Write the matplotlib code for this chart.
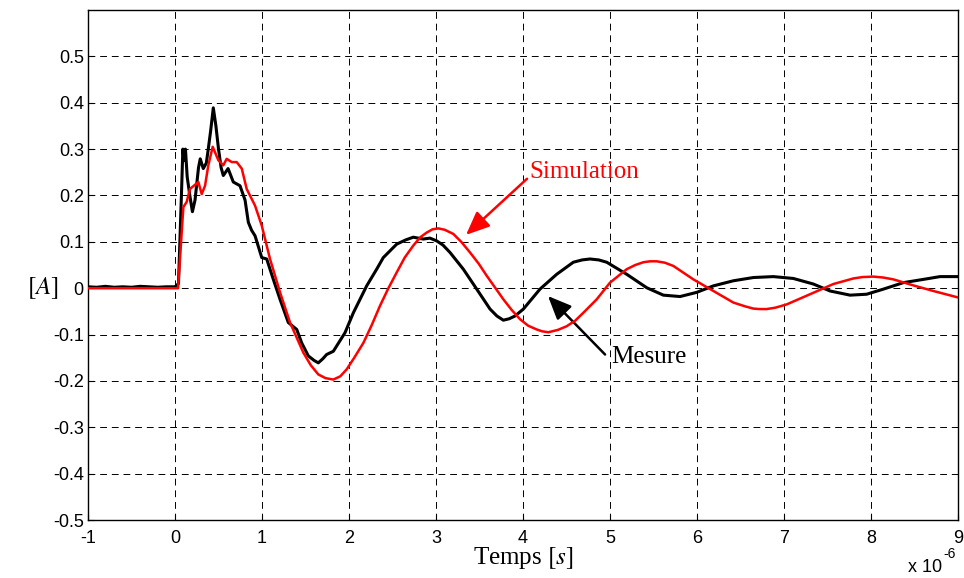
import matplotlib
matplotlib.use("Agg")
import matplotlib.pyplot as plt

plt.rcParams['mathtext.fontset'] = 'stix'
plt.rcParams['axes.unicode_minus'] = False

# time in units of 1e-6 s
t_mes = [-1.0, -0.9, -0.8, -0.7, -0.6, -0.5, -0.4, -0.3, -0.2, -0.1, 0.0, 0.04,
         0.077, 0.09, 0.105, 0.12, 0.14, 0.17, 0.2, 0.23, 0.27, 0.29, 0.325, 0.36,
         0.38, 0.41, 0.44, 0.47, 0.50, 0.53, 0.555, 0.61, 0.67, 0.747, 0.805,
         0.843, 0.88, 0.92, 0.997, 1.054, 1.13, 1.207, 1.302, 1.399, 1.456, 1.532,
         1.6, 1.647, 1.70, 1.743, 1.82, 1.954, 2.05, 2.203, 2.318, 2.394, 2.548,
         2.65, 2.739, 2.854, 2.93, 3.008, 3.08, 3.161, 3.314, 3.468, 3.621, 3.70,
         3.774, 3.84, 3.908, 4.004, 4.195, 4.387, 4.578, 4.68, 4.77, 4.87, 4.962,
         5.192, 5.422, 5.613, 5.805, 5.996, 6.188, 6.418, 6.647, 6.877, 7.107,
         7.337, 7.529, 7.759, 7.95, 8.142, 8.372, 8.602, 8.793, 9.0]
i_mes = [0.003, 0.002, 0.004, 0.002, 0.003, 0.002, 0.004, 0.003, 0.002, 0.003, 0.003, 0.01,
         0.22, 0.30, 0.275, 0.30, 0.24, 0.20, 0.165, 0.19, 0.26, 0.279, 0.258, 0.27,
         0.297, 0.34, 0.389, 0.35, 0.30, 0.26, 0.243, 0.258, 0.229, 0.221, 0.19,
         0.142, 0.125, 0.113, 0.066, 0.063, 0.019, -0.024, -0.074, -0.089, -0.118, -0.146,
         -0.156, -0.161, -0.152, -0.143, -0.136, -0.096, -0.053, 0.005, 0.041, 0.066, 0.095,
         0.104, 0.11, 0.106, 0.108, 0.102, 0.093, 0.077, 0.041, -0.002, -0.045, -0.060,
         -0.069, -0.066, -0.06, -0.045, -0.002, 0.03, 0.056, 0.061, 0.063, 0.061, 0.056,
         0.03, 0.001, -0.015, -0.018, -0.009, 0.005, 0.016, 0.023, 0.025, 0.021,
         0.009, -0.006, -0.015, -0.013, -0.002, 0.012, 0.019, 0.025, 0.025]

t_sim = [-1.0, 0.035, 0.096, 0.134, 0.172, 0.268, 0.307, 0.345, 0.383, 0.433, 0.498,
         0.555, 0.594, 0.652, 0.709, 0.767, 0.824, 0.92, 0.997, 1.092, 1.207, 1.322,
         1.475, 1.56, 1.647, 1.73, 1.82, 1.90, 1.973, 2.06, 2.165, 2.26, 2.356, 2.45,
         2.548, 2.64, 2.739, 2.82, 2.893, 2.96, 3.027, 3.10, 3.199, 3.29, 3.391, 3.49,
         3.582, 3.68, 3.774, 3.87, 3.966, 4.06, 4.157, 4.22, 4.291, 4.40, 4.502, 4.60,
         4.693, 4.847, 5.0, 5.192, 5.29, 5.383, 5.46, 5.536, 5.63, 5.728, 5.958, 6.188,
         6.418, 6.55, 6.647, 6.72, 6.8, 6.9, 7.03, 7.299, 7.567, 7.797, 7.9, 8.027,
         8.14, 8.257, 8.487, 8.716, 9.0]
i_sim = [0.0, 0.0, 0.175, 0.186, 0.214, 0.229, 0.203, 0.221, 0.265, 0.305, 0.276,
         0.265, 0.279, 0.272, 0.272, 0.258, 0.214, 0.178, 0.135, 0.063, -0.009, -0.074,
         -0.139, -0.166, -0.186, -0.194, -0.197, -0.19, -0.175, -0.15, -0.118, -0.08, -0.038,
         -0.001, 0.034, 0.066, 0.092, 0.11, 0.12, 0.127, 0.129, 0.126, 0.117, 0.10, 0.077,
         0.053, 0.027, 0.001, -0.024, -0.047, -0.067, -0.081, -0.089, -0.093, -0.095, -0.09,
         -0.082, -0.07, -0.053, -0.024, 0.012, 0.041, 0.05, 0.056, 0.058, 0.058, 0.055,
         0.048, 0.019, -0.006, -0.031, -0.039, -0.044, -0.045, -0.045, -0.042, -0.035,
         -0.013, 0.009, 0.021, 0.024, 0.025, 0.023, 0.019, 0.006, -0.006, -0.02]

x_ticks = [-1, 0, 1, 2, 3, 4, 5, 6, 7, 8, 9]
y_ticks = [-0.5, -0.4, -0.3, -0.2, -0.1, 0, 0.1, 0.2, 0.3, 0.4, 0.5]
y_ticklabels = ['-0.5', '-0.4', '-0.3', '-0.2', '-0.1', '0', '0.1', '0.2', '0.3', '0.4', '0.5']

fig = plt.figure(figsize=(9.64, 5.78), dpi=100)
ax = fig.add_axes([0.0913, 0.1003, 0.9025, 0.8824])

ax.plot(t_mes, i_mes, color='black', lw=2.2, zorder=3)
ax.plot(t_sim, i_sim, color='#ff0000', lw=1.8, zorder=4)

ax.set_xlim(-1, 9)
ax.set_ylim(-0.5, 0.6)
ax.set_xticks(x_ticks)
ax.set_yticks(y_ticks)
ax.set_yticklabels(y_ticklabels)
ax.tick_params(direction='in', length=4, width=0.8, labelsize=13, pad=3)
ax.tick_params(axis='x', pad=7)
for lab in ax.get_xticklabels() + ax.get_yticklabels():
    lab.set_fontfamily('Liberation Sans')
ax.grid(True, color='black', linestyle=(0, (7, 5)), lw=0.7)
for sp in ax.spines.values():
    sp.set_linewidth(1.0)

ax.set_xlabel(r'Temps $[s]$', fontsize=18, family='Liberation Serif', labelpad=-1)
fig.text(0.044, (0.0 + 0.5) / 1.1 * 0.8824 + 0.1003, r'$[A]$', fontsize=18,
         ha='center', va='center')

# multiplier
fig.text(0.942, 0.004, 'x 10', fontsize=13, family='Liberation Sans', ha='left', va='bottom')
fig.text(0.979, 0.030, '-6', fontsize=10, family='Liberation Sans', ha='left', va='bottom')

# annotations
arrow_style = '-|>,head_length=0.65,head_width=0.28'
ax.annotate('', xy=(3.345, 0.115), xytext=(4.046, 0.236),
            arrowprops=dict(arrowstyle=arrow_style, color='#ff0000', lw=1.8, mutation_scale=22,
                            shrinkA=0, shrinkB=0))
ax.text(4.069, 0.251, 'Simulation', color='#ff0000', fontsize=18,
        family='Liberation Serif', ha='left', va='center')
ax.annotate('', xy=(4.287, -0.017), xytext=(4.943, -0.143),
            arrowprops=dict(arrowstyle=arrow_style, color='black', lw=1.8, mutation_scale=22,
                            shrinkA=0, shrinkB=0))
ax.text(5.011, -0.149, 'Mesure', color='black', fontsize=18,
        family='Liberation Serif', ha='left', va='center')

fig.savefig('out.png', dpi=100)
